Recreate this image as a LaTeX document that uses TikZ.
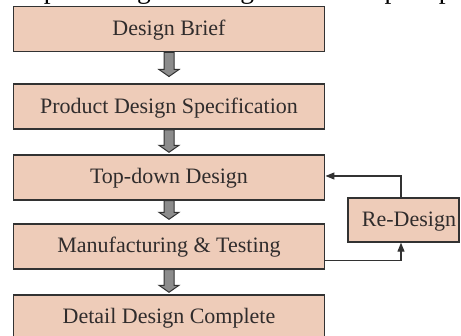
\documentclass[tikz,border=0pt]{standalone}
\usepackage{fontspec}
\setmainfont{Liberation Serif}
\usetikzlibrary{arrows.meta,calc}
\definecolor{boxfill}{RGB}{238,204,185}
\definecolor{boxline}{RGB}{50,50,50}
\definecolor{txt}{RGB}{48,44,44}
\definecolor{arrfill}{RGB}{140,140,140}
\newcommand{\blockarr}[3]{%
  \draw[blockarrow] ($(#1.south)+(-5,0)$) -- ($(#2.north)+(-5,-#3-7)$)
    -- ($(#2.north)+(-10,-#3-7)$) -- ($(#2.north)+(0,-#3)$)
    -- ($(#2.north)+(10,-#3-7)$) -- ($(#2.north)+(5,-#3-7)$)
    -- ($(#1.south)+(5,0)$) -- cycle;}
\begin{document}
\begin{tikzpicture}[x=1pt,y=-1pt,
  stage/.style={draw=boxline, line width=1.4pt, fill=boxfill,
    minimum width=311.5pt, minimum height=45pt, inner sep=0pt,
    text=txt, font=\fontsize{22}{26}\selectfont,
    text height=16pt, text depth=3pt},
  blockarrow/.style={draw=boxline, line width=1pt, fill=arrfill, line join=miter},
  fb/.style={draw=boxline, line width=1.2pt,
    -{Triangle[length=9pt,width=7pt]}},
  bodytext/.style={anchor=base west, inner sep=0pt, text=black,
    font=\fontsize{27.5}{30}\selectfont}]
\useasboundingbox (0,0) rectangle (461,336);
\clip (0,0) rectangle (461,336);
\fill[white] (0,0) rectangle (461,336);
\node[bodytext] (body) at (10,-1) {help to design the large-scale complex pro};
\node[stage] (b1) at (169,29.2) {Design Brief};
\node[stage] (b2) at (169,106.7) {Product Design Specification};
\node[stage] (b3) at (169,177.5) {Top-down Design};
\node[stage] (b4) at (169,246.5) {Manufacturing \& Testing};
\node[stage] (b5) at (169,317.5) {Detail Design Complete};
\node[stage, minimum width=111pt, minimum height=44pt, text width=105pt,
  align=right, inner xsep=3pt] (rd) at (403.5,220) {Re-Design};
\blockarr{b1}{b2}{7}
\blockarr{b2}{b3}{2}
\blockarr{b3}{b4}{4}
\blockarr{b4}{b5}{2}
\coordinate (fx) at (401,0);
\draw[fb] (rd.north -| fx) |- ($(b3.east)+(0,-1.5)$);
\draw[fb] ($(b4.south east)+(0,-9)$) -| (rd.south -| fx);
\end{tikzpicture}
\end{document}
